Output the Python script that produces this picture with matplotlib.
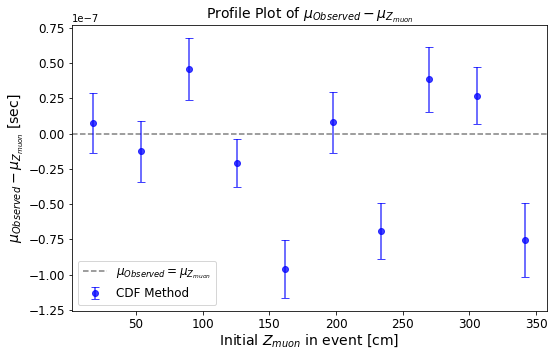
import numpy as np
import matplotlib
matplotlib.use("Agg")
import matplotlib.pyplot as plt

# bin centres of initial muon z [cm]
z_centres = [18, 54, 90, 126, 162, 198, 234, 270, 306, 342]
# mean residual mu_obs - mu_z [units of 1e-7 s]
mean_diff = [0.075, -0.125, 0.46, -0.205, -0.96, 0.08, -0.69, 0.385, 0.27, -0.755]
err_diff = [0.215, 0.215, 0.22, 0.17, 0.205, 0.215, 0.2, 0.23, 0.2, 0.26]

mean_diff = np.array(mean_diff) * 1e-7
err_diff = np.array(err_diff) * 1e-7

fig, ax = plt.subplots(figsize=(552 / 72, 349 / 72), dpi=72)
fig.subplots_adjust(left=0.130, right=0.991, top=0.929, bottom=0.109)

ax.axhline(0, color='gray', linestyle='--', label=r'$\mu_{Observed} = \mu_{Z_{muon}}$')
ax.errorbar(z_centres, mean_diff, yerr=err_diff, fmt='o', color='blue', alpha=0.75,
            capsize=4, markersize=6, label='CDF Method')

ax.set_xlabel(r'Initial $Z_{muon}$ in event [cm]', fontsize=14, labelpad=1)
ax.set_ylabel(r'$\mu_{Observed} - \mu_{Z_{muon}}$ [sec]', fontsize=14, labelpad=2)
ax.set_title(r'Profile Plot of $\mu_{Observed} - \mu_{Z_{muon}}$', fontsize=14)
ax.tick_params(labelsize=12)
ax.yaxis.get_offset_text().set_fontsize(10)
ax.legend(loc='lower left', fontsize=12)

plt.savefig('out.png', dpi=72)
